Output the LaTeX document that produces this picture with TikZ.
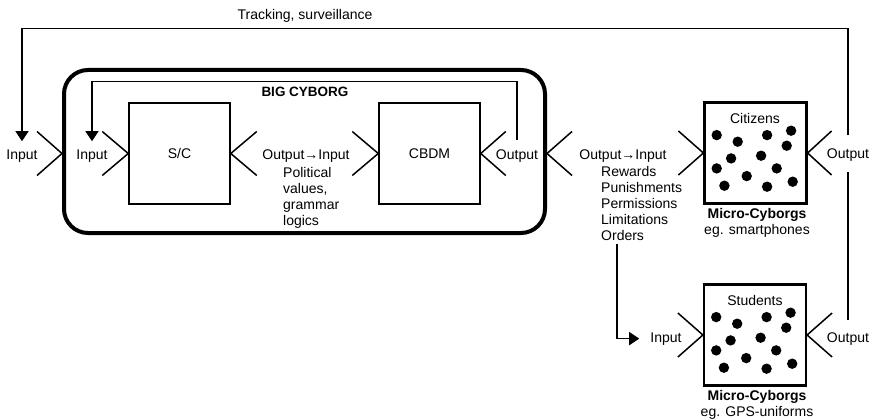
\documentclass[tikz,border=0pt]{standalone}
\usepackage{fontspec}
\setmainfont{Liberation Sans}
\usetikzlibrary{arrows.meta,calc}

\begin{document}
\begin{tikzpicture}[x=1pt,y=-1pt,
  every node/.style={font=\fontsize{14}{16}\selectfont, inner sep=0pt},
  lbl/.style={anchor=base},
  listlbl/.style={anchor=base west, align=left},
  sqbox/.style={draw, line width=1.5pt, minimum width=101pt, minimum height=101pt},
  crowd/.style={draw, line width=2.2pt, minimum width=102pt, minimum height=101pt},
  chev/.style={line width=1.5pt},
  fb/.style={line width=1.2pt},
  tip/.style={-{Triangle[length=10pt,width=13pt]}},
]
\useasboundingbox (0,0) rectangle (873,420);

% the big cyborg frame and its two boxes
\node[draw, line width=4pt, rounded corners=24pt, minimum width=481pt, minimum height=163pt] (big) at (304.5,151.5) {};
\node[sqbox] (sc) at (179.5,153.5) {S/C};
\node[sqbox] (cbdm) at (429.5,153.5) {CBDM};
\node[lbl, font=\fontsize{13.5}{16}\selectfont\bfseries] (biglbl) at (305,96) {BIG CYBORG};

% micro-cyborg boxes
\node[crowd] (cit) at (755.5,153) {};
\node[crowd] (stu) at (755,335) {};
\node[lbl] (citT) at (755,123) {Citizens};
\node[lbl] (stuT) at (755,305) {Students};
% multi-line labels sit on the baseline of their last line
\node[anchor=base, align=center] (citL) at (757,234) {\textbf{Micro-Cyborgs}\\eg. smartphones};
\node[anchor=base, align=center] (stuL) at (757,416) {\textbf{Micro-Cyborgs}\\eg. GPS-uniforms};

% crowds of dots
\foreach \bx in {cit,stu}
  \foreach \dx/\dy in {13.3/33.7,34.3/40.3,63.7/33.7,87.7/29.3,83.3/44.3,27.7/57,57.7/54.3,13.3/67,73.3/67,43.3/74.7,21/84.3,63.7/85.3,89.3/80.3}
    \fill ($(\bx.north west)+(\dx,\dy)$) circle (5.2);

% labels
\node[lbl] (inL) at (22,159) {Input};
\node[lbl] (inB) at (92,159) {Input};
\node[lbl] (oi1) at (306,159) {Output→Input};
\node[listlbl] (pol) at (283,225) {Political\\values,\\grammar\\logics};
\node[lbl] (outB) at (517,159) {Output};
\node[lbl] (oi2) at (623,159) {Output→Input};
\node[listlbl] (ord) at (601,240) {Rewards\\Punishments\\Permissions\\Limitations\\Orders};
\node[lbl] (outC) at (848,158) {Output};
\node[lbl] (inS) at (666,342) {Input};
\node[lbl] (outS) at (848,342) {Output};
\node[lbl] (trk) at (305,20) {Tracking, surveillance};

% chevrons
\draw[chev] ($(big.west |- sc.west)+(-25,-22)$) -- (big.west |- sc.west) -- ($(big.west |- sc.west)+(-25,22)$);
\draw[chev] ($(sc.west)+(-26,-22)$) -- (sc.west) -- ($(sc.west)+(-26,22)$);
\draw[chev] ($(sc.east)+(26,-22)$) -- (sc.east) -- ($(sc.east)+(26,22)$);
\draw[chev] ($(cbdm.west)+(-26,-22)$) -- (cbdm.west) -- ($(cbdm.west)+(-26,22)$);
\draw[chev] ($(cbdm.east)+(25,-22)$) -- (cbdm.east) -- ($(cbdm.east)+(25,22)$);
\draw[chev] ($(big.east |- cbdm.east)+(25,-22)$) -- (big.east |- cbdm.east) -- ($(big.east |- cbdm.east)+(25,22)$);
\draw[chev] ($(cit.west)+(-25,-22)$) -- (cit.west) -- ($(cit.west)+(-25,22)$);
\draw[chev] ($(cit.east)+(24,-22)$) -- (cit.east) -- ($(cit.east)+(24,22)$);
\draw[chev] ($(stu.west)+(-25,-22)$) -- (stu.west) -- ($(stu.west)+(-25,22)$);
\draw[chev] ($(stu.east)+(25,-22)$) -- (stu.east) -- ($(stu.east)+(25,22)$);

% feedback and command lines
\draw[fb,tip,shorten >=8pt] ($(outC.north)+(0,-13)$) |- ($(trk.south)+(0,5)$) -| (inL.north);
\draw[fb,tip,shorten >=8pt] ($(outB.north)+(0,-9)$) |- ($(biglbl.north)+(0,-5)$) -| (inB.north);
\draw[fb] ($(outS.north)+(0,-12)$) -- ($(outC.south)+(0,11)$);
\coordinate (ordx) at (617,0);
\draw[fb,tip,shorten >=11pt] ($(ordx |- ord.south)+(0,4)$) |- (inS.west);
\end{tikzpicture}
\end{document}
